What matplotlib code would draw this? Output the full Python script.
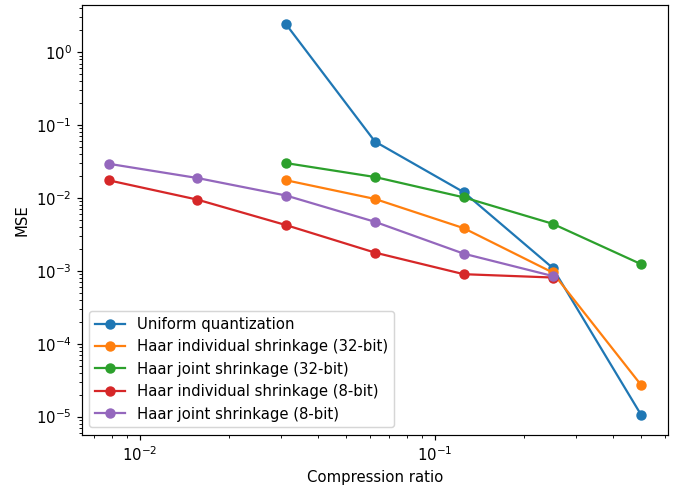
import matplotlib
matplotlib.use("Agg")
import matplotlib.pyplot as plt

ratios = [1/128, 1/64, 1/32, 1/16, 1/8, 1/4, 1/2]

uniform_x = ratios[2:]
uniform_mse = [2.41, 0.0595, 0.0120, 0.00110, 1.04e-5]

ind32_x = ratios[2:]
ind32_mse = [0.0175, 0.0097, 0.00385, 0.00095, 2.68e-5]

joint32_x = ratios[2:]
joint32_mse = [0.0301, 0.0194, 0.0102, 0.00443, 0.00123]

ind8_x = ratios[:6]
ind8_mse = [0.0175, 0.0095, 0.00424, 0.00178, 0.00090, 0.00081]

joint8_x = ratios[:6]
joint8_mse = [0.0295, 0.0188, 0.0108, 0.00471, 0.00172, 0.00085]

labels = [
    "Uniform quantization",
    "Haar individual shrinkage (32-bit)",
    "Haar joint shrinkage (32-bit)",
    "Haar individual shrinkage (8-bit)",
    "Haar joint shrinkage (8-bit)",
]

DPI = 107
fig = plt.figure(figsize=(688 / DPI, 487 / DPI), dpi=DPI)
ax = fig.add_subplot(111)
fig.subplots_adjust(left=0.119, right=0.971, top=0.990, bottom=0.107)

series = [
    (uniform_x, uniform_mse),
    (ind32_x, ind32_mse),
    (joint32_x, joint32_mse),
    (ind8_x, ind8_mse),
    (joint8_x, joint8_mse),
]
for (x, y), lab in zip(series, labels):
    ax.plot(x, y, marker="o", label=lab)

ax.set_xscale("log")
ax.set_yscale("log")
ax.set_xlabel("Compression ratio")
ax.set_ylabel("MSE")
ax.legend(loc="lower left")

fig.savefig("out.png", dpi=DPI)
